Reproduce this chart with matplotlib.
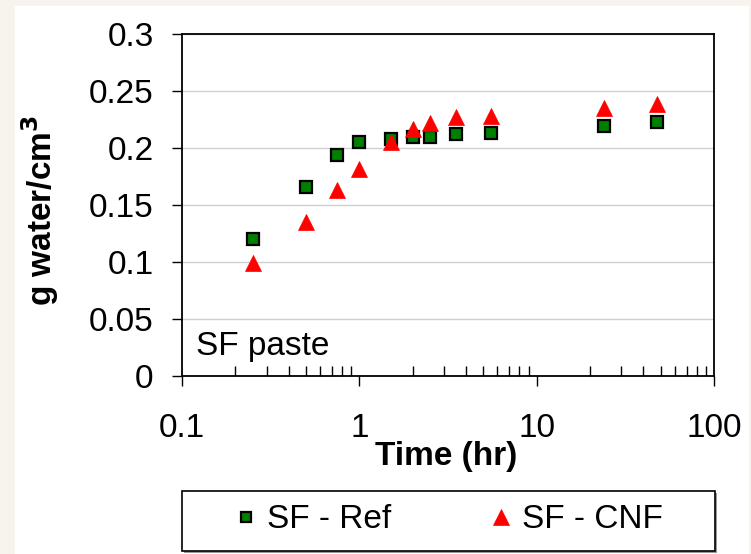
import matplotlib.pyplot as plt
import matplotlib.patches as patches
from matplotlib.ticker import FixedLocator, LogLocator, FuncFormatter, NullFormatter

plt.rcParams['font.family'] = ['Liberation Sans', 'DejaVu Sans']

# data
time_hr = [0.25, 0.5, 0.75, 1.0, 1.5, 2.0, 2.5, 3.5, 5.5, 24, 48]
sf_ref = [0.120, 0.166, 0.194, 0.205, 0.208, 0.210, 0.210, 0.212, 0.213, 0.219, 0.223]
sf_cnf = [0.099, 0.135, 0.163, 0.182, 0.205, 0.217, 0.222, 0.227, 0.228, 0.235, 0.239]
y_ticks = [0, 0.05, 0.1, 0.15, 0.2, 0.25, 0.3]
x_ticks = [0.1, 1, 10, 100]

W, H = 751, 554
fig = plt.figure(figsize=(W/100, H/100), dpi=100)
fig.patch.set_facecolor('#f7f4ee')
fig.patches.append(patches.Rectangle((15/W, 0), (749-15)/W, 1-6/H,
                                     transform=fig.transFigure, facecolor='white',
                                     edgecolor='none', zorder=-10))

ax = fig.add_axes([182/W, 1-376/H, (714-182)/W, (376-34)/H])
ax.plot(time_hr, sf_ref, 's', ms=8, mfc='#008000', mec='black', mew=1.6, label='SF - Ref', zorder=3)
ax.plot(time_hr, sf_cnf, '^', ms=11.5, mfc='#ff0000', mec='#ff0000', mew=0.5, label='SF - CNF', zorder=4)

ax.set_xscale('log')
ax.set_xlim(0.1, 100)
ax.set_ylim(0, 0.3)
ax.set_yticks(y_ticks)
ax.yaxis.set_major_formatter(FuncFormatter(lambda v, p: '%g' % v))
ax.xaxis.set_major_locator(FixedLocator(x_ticks))
ax.xaxis.set_major_formatter(FuncFormatter(lambda v, p: '%g' % v))
ax.xaxis.set_minor_locator(LogLocator(base=10, subs=range(2, 10)))
ax.xaxis.set_minor_formatter(NullFormatter())
ax.grid(axis='y', color='#d0d0d0', lw=1)
ax.set_axisbelow(True)

ax.tick_params(axis='both', which='major', labelsize=24, direction='out', length=7.5, width=1, color='black')
ax.tick_params(axis='y', which='major', pad=13)
ax.tick_params(axis='x', which='major', pad=19)
ax.tick_params(axis='x', which='minor', direction='in', length=7, width=1)
for s in ax.spines.values():
    s.set_linewidth(1.3)
    s.set_color('black')

fig.text(446/W, 1-456/H, 'Time (hr)', fontsize=24, fontweight='bold', ha='center', va='center')
fig.text(40/W, 1-210/H, 'g water/cm$^\\mathbf{3}$', fontsize=24, fontweight='bold',
         rotation=90, ha='center', va='center')
ax.text(0.027, 0.085, 'SF paste', transform=ax.transAxes, fontsize=24, va='center', ha='left')

# legend box with a light shadow
fig.patches.append(patches.Rectangle((184/W, 1-553/H), 533/W, 60/H, transform=fig.transFigure,
                                     facecolor='#999999', edgecolor='none', zorder=1))
fig.patches.append(patches.Rectangle((182/W, 1-551/H), 533/W, 60/H, transform=fig.transFigure,
                                     facecolor='white', edgecolor='black', lw=1.2, zorder=2))
leg = fig.legend(loc='center left', ncol=2, bbox_to_anchor=(236/W, 1-520/H),
                 fontsize=24, frameon=False, markerscale=0.95, handlelength=0.6,
                 handletextpad=0.33, columnspacing=3.0, borderpad=0, borderaxespad=0)
leg.set_zorder(3)

fig.savefig('out.png', dpi=100, facecolor=fig.get_facecolor())
